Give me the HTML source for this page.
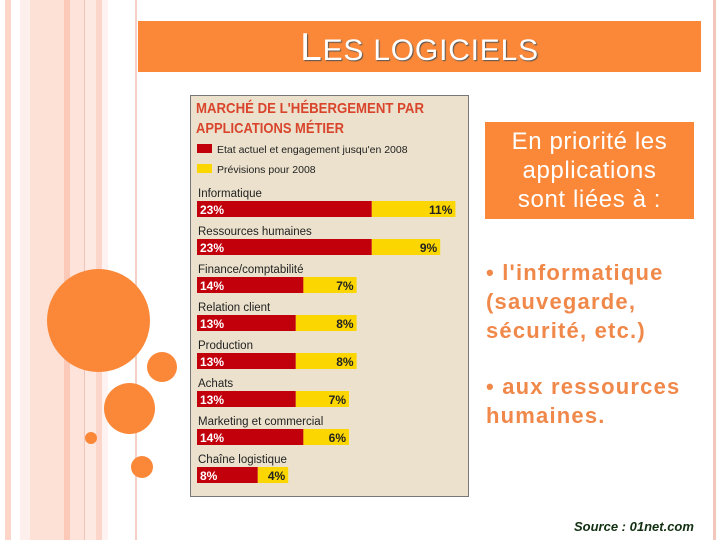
<!DOCTYPE html>
<html><head><meta charset="utf-8"><style>
body{margin:0;width:720px;height:540px;overflow:hidden;background:#fff;font-family:"Liberation Sans",sans-serif;position:relative}
.s{position:absolute;top:0;height:540px}
.c{position:absolute;border-radius:50%;background:#fa8838}
</style></head><body>
<div>
<div class="s" style="left:5px;width:6px;background:#fcd5c8"></div>
<div class="s" style="left:20px;width:10px;background:#fdf0ec"></div>
<div class="s" style="left:30px;width:34px;background:#fde0d6"></div>
<div class="s" style="left:64px;width:6px;background:#fcc8b8"></div>
<div class="s" style="left:70px;width:14px;background:#fde3da"></div>
<div class="s" style="left:84px;width:1px;background:#f0c4b8"></div>
<div class="s" style="left:85px;width:11px;background:#fde8e2"></div>
<div class="s" style="left:96px;width:6px;background:#fcd6ca"></div>
<div class="s" style="left:102px;width:6px;background:#fef3f0"></div>
<div class="s" style="left:135px;width:2px;background:#f3cfc6"></div>
<div class="s" style="left:713px;width:3px;background:#f3c6ba"></div>
</div>
<div>
<div class="c" style="left:47px;top:269px;width:103px;height:103px"></div>
<div class="c" style="left:147px;top:352px;width:30px;height:30px"></div>
<div class="c" style="left:104px;top:383px;width:51px;height:51px"></div>
<div class="c" style="left:85px;top:432px;width:12px;height:12px"></div>
<div class="c" style="left:131px;top:456px;width:22px;height:22px"></div>
</div>
<div style="position:absolute;left:138px;top:21px;width:563px;height:51px;background:#fa8838;text-align:center;line-height:54px;color:#fff;font-size:30px;text-shadow:1px 1px 1px #555;letter-spacing:0.8px">
<span><span style="font-size:39px">L</span>ES LOGICIELS</span></div>
<svg style="position:absolute;left:0;top:0" width="720" height="540" font-family="Liberation Sans, sans-serif">
<rect x="190.5" y="95.5" width="278" height="401" fill="#ebe1cc" stroke="#777"/>
<text x="196" y="113" fill="#d9452c" font-size="15" font-weight="bold" textLength="228" lengthAdjust="spacingAndGlyphs">MARCHÉ DE L'HÉBERGEMENT PAR</text>
<text x="196" y="133" fill="#d9452c" font-size="15" font-weight="bold" textLength="148" lengthAdjust="spacingAndGlyphs">APPLICATIONS MÉTIER</text>
<rect x="197" y="144" width="15" height="9" fill="#c2000c"/>
<text x="217" y="153" font-size="10.5" fill="#222">Etat actuel et engagement jusqu'en 2008</text>
<rect x="197" y="164" width="15" height="9" fill="#fcd600"/>
<text x="217" y="173" font-size="10.5" fill="#222">Prévisions pour 2008</text>
<g id="bars"></g>
</svg>
<div style="position:absolute;left:485px;top:122px;width:209px;height:97px;background:#fa8838;color:#fff;font-size:24px;text-align:center;line-height:29px;padding-top:5px;box-sizing:border-box;letter-spacing:0.6px">En priorité les<br>applications<br>sont liées à :</div>
<div style="position:absolute;left:486px;top:258px;width:230px;color:#f0884a;font-size:22px;line-height:29px;font-weight:bold;letter-spacing:1.2px">• l'informatique (sauvegarde, sécurité, etc.)</div>
<div style="position:absolute;left:486px;top:372px;width:230px;color:#f0884a;font-size:22px;line-height:29px;font-weight:bold;letter-spacing:1.2px">• aux ressources humaines.</div>
<div style="position:absolute;left:574px;top:519px;color:#123012;font-size:13px;font-weight:bold;font-style:italic">Source : 01net.com</div>
<script>
const categories=["Informatique","Ressources humaines","Finance/comptabilité","Relation client","Production","Achats","Marketing et commercial","Chaîne logistique"];
const currentVals=[23,23,14,13,13,13,14,8];
const forecastVals=[11,9,7,8,8,7,6,4];
const x0=197,pxPer=7.6,rowTop=201,rowStep=38,barH=16;
const xs=v=>v*pxPer;
const ys=i=>rowTop+i*rowStep;
const g=document.getElementById('bars');
const NS='http://www.w3.org/2000/svg';
function mk(t,a){const e=document.createElementNS(NS,t);for(const k in a)e.setAttribute(k,a[k]);g.appendChild(e);return e;}
categories.forEach((c,i)=>{
 const y=ys(i);
 const l=mk('text',{x:198,y:y-4,'font-size':11.5,fill:'#222'});l.textContent=c;
 
 
 const w1=xs(currentVals[i]),w2=xs(forecastVals[i]);
 const r1=mk('rect',{x:x0,y:y,width:w1,height:barH,fill:'#c2000c'});
 
 
 const r2=mk('rect',{x:x0+w1,y:y,width:w2,height:barH,fill:'#fcd600'});
 
 
 const t1=mk('text',{x:x0+3,y:y+13,'font-size':12,'font-weight':'bold',fill:'#fff'});t1.textContent=currentVals[i]+'%';
 
 
 const t2=mk('text',{x:x0+w1+w2-3,y:y+13,'font-size':12,'font-weight':'bold',fill:'#222','text-anchor':'end'});t2.textContent=forecastVals[i]+'%';
 
 
});
</script>
</body></html>
